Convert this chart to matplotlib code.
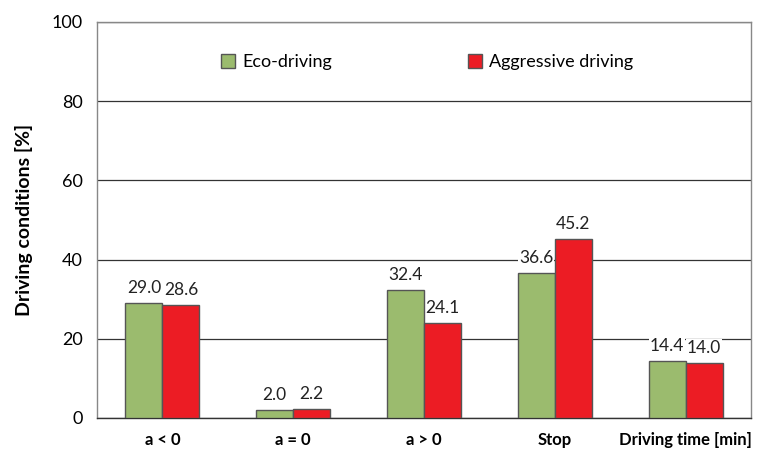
import matplotlib
matplotlib.use("Agg")
import matplotlib.pyplot as plt
import numpy as np

categories = ["a < 0", "a = 0", "a > 0", "Stop", "Driving time [min]"]
eco = [29.0, 2.0, 32.4, 36.6, 14.4]
aggr = [28.6, 2.2, 24.1, 45.2, 14.0]
series_names = ["Eco-driving", "Aggressive driving"]

plt.rcParams['font.family'] = ['Lato', 'DejaVu Sans']

fig = plt.figure(figsize=(7.6, 4.51), dpi=100)
ax = fig.add_axes([97/760, 33/451, 654/760, 396/451])

x = np.arange(len(categories))
w = 0.283
green = "#9bbb6e"
red = "#ec1c24"
b1 = ax.bar(x - w/2, eco, w, color=green, edgecolor="#555555", linewidth=1.0, label=series_names[0], zorder=3)
b2 = ax.bar(x + w/2, aggr, w, color=red, edgecolor="#555555", linewidth=1.0, label=series_names[1], zorder=3)

for bars, vals in ((b1, eco), (b2, aggr)):
    for r, v in zip(bars, vals):
        # white backing box (hides gridlines), drawn beneath bars
        ax.annotate(f"{v:.1f}", (r.get_x() + r.get_width()/2, v), xytext=(0, 5),
                    textcoords="offset points", ha="center", va="bottom", fontsize=12.5,
                    color=(0, 0, 0, 0), zorder=2,
                    bbox=dict(boxstyle="square,pad=0.05", fc="white", ec="none"))
        ax.annotate(f"{v:.1f}", (r.get_x() + r.get_width()/2, v), xytext=(0, 5),
                    textcoords="offset points", ha="center", va="bottom", fontsize=12.5,
                    color="#222222", zorder=5)

ax.set_xlim(-0.5, 4.5)
ax.set_ylim(0, 100)
ax.set_yticks([0, 20, 40, 60, 80, 100])
ax.yaxis.grid(True, color="#333333", linewidth=0.9, zorder=0)
ax.set_axisbelow(True)
ax.set_xticks(x)
ax.set_xticklabels(categories, fontsize=12, fontweight="bold")
ax.tick_params(axis="y", labelsize=13, length=0, pad=10)
ax.tick_params(axis="x", length=0, pad=10)
for s in ax.spines.values():
    s.set_color("#888888")
    s.set_linewidth(1.0)
ax.spines["bottom"].set_color("#333333")
ax.set_ylabel("Driving conditions [%]", fontsize=14, fontweight="bold", labelpad=14)

ax.legend(loc="upper center", bbox_to_anchor=(0.505, 0.96), ncol=2, frameon=False,
          fontsize=13, columnspacing=7.5, handlelength=0.8, handleheight=0.8, handletextpad=0.4)

fig.savefig("out.png", dpi=100)
